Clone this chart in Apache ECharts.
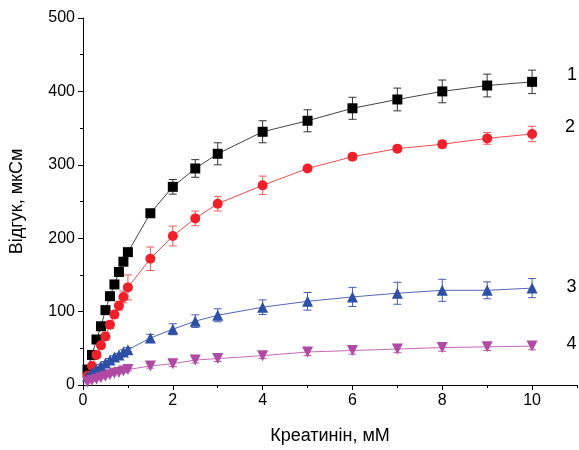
<!DOCTYPE html>
<html><head><meta charset="utf-8">
<script src="https://cdn.jsdelivr.net/npm/echarts@6/dist/echarts.min.js"></script>
<style>html,body{margin:0;padding:0;background:#fff}#c{width:579px;height:450px}</style>
</head><body><div id="c"></div>
<script>
var xs = [0.1,0.2,0.3,0.4,0.5,0.6,0.7,0.8,0.9,1.0,1.5,2,2.5,3,4,5,6,7,8,9,10];
var s1 = [21,41,62,80,102,121,137,154,168,181,234,270,295,315,345,360,377,389,400,408,413];
var e1 = [0,0,0,0,0,0,0,0,0,0,5,10,12,15,15,15,15,15.5,15.5,15.5,16];
var s2 = [13,26,41,54,66,82,96,108,120,133,172,203,227,247,272,295,311,322,328,336,342];
var e2 = [3,3,4,4,5,5,5,6,8,17,16,13.5,10,10,12.6,3,4,4,5,8,10.5];
var s3 = [12,17,21,26,30,34,38,41,45,48,64,76,87,95,106,114,120,125,129,129,132];
var e3 = [2,2,2,2,2,2,2,2,3,3,5,7.5,8.6,8.8,10,12,13,15,15,11.5,13];
var s4 = [4,6,8,10,12,14,16,17,19,21,26,29,34,36,40,45,47,49,51,52,53];
var e4 = [1,1,1,1,1,1,1,1,2,2,3,4,4,4,4,5,5,5,5,5,5];
var seriesNames = ['1','2','3','4'];
var xMajor = [0,2,4,6,8,10];
var xMinor = [1,3,5,7,9,11];
var yMajor = [0,100,200,300,400,500];
var yMinor = [50,150,250,350,450];

var FONT = 'Liberation Sans';
function pts(v){ return xs.map(function(x,i){ return [x, v[i]]; }); }
function errData(v,e){ return xs.map(function(x,i){ return [x, v[i]-e[i], v[i]+e[i]]; }); }
function errSeries(v,e,color){
  return {
    type:'custom', xAxisIndex:0, yAxisIndex:0, z:1,
    data: errData(v,e),
    renderItem: function(params, api){
      var x = api.value(0);
      if (api.value(2) - api.value(1) <= 0) return null;
      var lo = api.coord([x, api.value(1)]);
      var hi = api.coord([x, api.value(2)]);
      var w = 4;
      var st = {stroke: color, lineWidth: 1};
      return {type:'group', children:[
        {type:'line', shape:{x1:lo[0],y1:lo[1],x2:hi[0],y2:hi[1]}, style:st},
        {type:'line', shape:{x1:lo[0]-w,y1:lo[1],x2:lo[0]+w,y2:lo[1]}, style:st},
        {type:'line', shape:{x1:hi[0]-w,y1:hi[1],x2:hi[0]+w,y2:hi[1]}, style:st}
      ]};
    }
  };
}
function lineSeries(v, name, symbol, size, color, lineColor, off, rotate){
  var d = pts(v);
  var last = d.length-1;
  d[last] = {value: d[last], label:{show:true, position:'right', offset:off, formatter:name,
    color:'#000', fontSize:18, fontFamily:FONT}};
  return {
    type:'line', name:name, xAxisIndex:0, yAxisIndex:0, z:3,
    data:d, symbol:symbol, symbolSize:size, symbolRotate:rotate||0,
    showAllSymbol:true, animation:false,
    itemStyle:{color:color, borderWidth:0},
    lineStyle:{color:lineColor, width:1}
  };
}
var chart = echarts.init(document.getElementById('c'), null, {renderer:'canvas'});
var axisLine = {lineStyle:{color:'#000', width:1}};
chart.setOption({
  animation:false,
  grid:{left:79, top:18, right:2, bottom:63},
  xAxis:[
    {type:'value', min:0, max:11, interval:1,
     name:'Креатинін, мМ', nameLocation:'middle', nameGap:42,
     nameTextStyle:{fontSize:18, fontFamily:FONT, color:'#000'},
     axisLine:axisLine, splitLine:{show:false},
     axisTick:{show:true, length:5, lineStyle:{color:'#000'}, customValues:xMajor},
     axisLabel:{color:'#000', fontSize:16, fontFamily:FONT, margin:8, customValues:xMajor}},
    {type:'value', min:0, max:11, interval:1, position:'bottom',
     axisLine:{show:false}, splitLine:{show:false},
     axisTick:{show:true, length:3, lineStyle:{color:'#000'}, customValues:xMinor},
     axisLabel:{show:false}}
  ],
  yAxis:[
    {type:'value', min:0, max:500, interval:100,
     name:'Відгук, мкСм', nameLocation:'middle', nameGap:57,
     nameTextStyle:{fontSize:18, fontFamily:FONT, color:'#000'},
     axisLine:{show:true, lineStyle:{color:'#000', width:1}}, splitLine:{show:false},
     axisTick:{show:true, length:5, lineStyle:{color:'#000'}, customValues:yMajor},
     axisLabel:{color:'#000', fontSize:16, fontFamily:FONT, margin:8, customValues:yMajor}},
    {type:'value', min:0, max:500, interval:50, position:'left',
     axisLine:{show:false}, splitLine:{show:false},
     axisTick:{show:true, length:3, lineStyle:{color:'#000'}, customValues:yMinor},
     axisLabel:{show:false}}
  ],
  series:[
    errSeries(s1,e1,'#333333'),
    errSeries(s2,e2,'#f05a5a'),
    errSeries(s3,e3,'#4a5cb0'),
    errSeries(s4,e4,'#b55aad'),
    lineSeries(s1,seriesNames[0],'rect',10,'#000000','#444444',[25,-7]),
    lineSeries(s2,seriesNames[1],'circle',10,'#f0202a','#f04a4a',[23,-7]),
    lineSeries(s3,seriesNames[2],'triangle',11,'#2d4fa5','#5565b5',[24,-1]),
    lineSeries(s4,seriesNames[3],'triangle',11,'#b04aa5','#c468b8',[24,-2],180)
  ]
});
</script></body></html>
